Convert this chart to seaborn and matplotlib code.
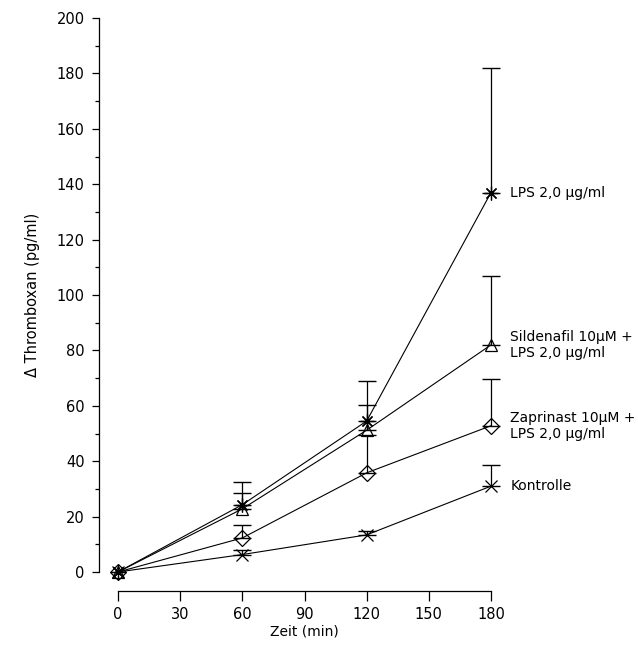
import numpy as np
import pandas as pd
import matplotlib
matplotlib.use("Agg")
import matplotlib.pyplot as plt
import seaborn as sns

# ---- data ----
zeit = [0, 60, 120, 180]
gruppen = ["LPS 2,0 µg/ml",
           "Sildenafil 10µM +\nLPS 2,0 µg/ml",
           "Zaprinast 10µM +\nLPS 2,0 µg/ml",
           "Kontrolle"]
lps = [0, 24.3, 54.5, 137]
lps_err = [0, 8.3, 14.6, 45]
sildenafil = [0, 22.8, 51.2, 82]
sildenafil_err = [0, 5.8, 9.2, 25]
zaprinast = [0, 12.3, 35.8, 52.8]
zaprinast_err = [0, 4.6, 13.6, 17]
kontrolle = [0, 6.3, 13.4, 31]
kontrolle_err = [0, 1.5, 1.5, 7.7]
y_ticks = [0, 20, 40, 60, 80, 100, 120, 140, 160, 180, 200]
x_ticks = [0, 30, 60, 90, 120, 150, 180]

werte = [lps, sildenafil, zaprinast, kontrolle]
fehler = [lps_err, sildenafil_err, zaprinast_err, kontrolle_err]
marker_map = {gruppen[0]: (8, 2, 0), gruppen[1]: "^", gruppen[2]: "D", gruppen[3]: "x"}
msize = {gruppen[0]: 10, gruppen[1]: 9, gruppen[2]: 8, gruppen[3]: 8}

df = pd.DataFrame({
    "Zeit": np.tile(zeit, len(gruppen)),
    "Wert": np.concatenate(werte),
    "Gruppe": np.repeat(gruppen, len(zeit)),
})

sns.set_style("ticks")
plt.rcParams["font.family"] = ["DejaVu Sans"]
plt.rcParams["text.color"] = "black"
plt.rcParams["axes.labelcolor"] = "black"
plt.rcParams["xtick.color"] = "black"
plt.rcParams["ytick.color"] = "black"

fig = plt.figure(figsize=(6.38, 6.5), dpi=100)
ax = fig.add_axes([118 / 638, 78 / 650, (491 - 118) / 638, (572 - 18) / 650])

for g, v, e in zip(gruppen, werte, fehler):
    sub = df[df["Gruppe"] == g]
    sns.lineplot(data=sub, x="Zeit", y="Wert", marker=marker_map[g], color="black",
                 linewidth=0.8, markersize=msize[g], markeredgecolor="black",
                 markerfacecolor="none", markeredgewidth=0.9, legend=False, ax=ax,
                 clip_on=False)
    eb = ax.errorbar(zeit[1:], v[1:], yerr=[np.zeros(len(v) - 1), e[1:]], fmt="none",
                     ecolor="black", elinewidth=0.9, capsize=6.5, capthick=1.0)
    for art in eb.lines[1] + eb.lines[2]:
        art.set_clip_on(False)
    ax.annotate(g, xy=(zeit[-1], v[-1]), xytext=(14, 0), textcoords="offset points",
                ha="left", va="center", fontsize=10, linespacing=1.15, color="black")

ax.set_xlim(0, 180)
ax.set_ylim(0, 200)
ax.set_xticks(x_ticks)
ax.set_yticks(y_ticks)
ax.set_yticks(np.arange(10, 200, 20), minor=True)
ax.tick_params(axis="y", which="major", length=5, width=0.9, labelsize=10.5, pad=5, color="black")
ax.tick_params(axis="y", which="minor", length=3, width=0.9, color="black")
ax.tick_params(axis="x", which="major", length=7, width=0.9, labelsize=10.5, pad=4, color="black")

for s in ["top", "right"]:
    ax.spines[s].set_visible(False)
for s in ["left", "bottom"]:
    ax.spines[s].set_position(("outward", 14))
    ax.spines[s].set_linewidth(0.9)
    ax.spines[s].set_color("black")

ax.set_xlabel("Zeit (min)", fontsize=10, labelpad=2)
ax.set_ylabel("Δ Thromboxan (pg/ml)", fontsize=10.5, labelpad=12)

fig.savefig("out.png", dpi=100)
